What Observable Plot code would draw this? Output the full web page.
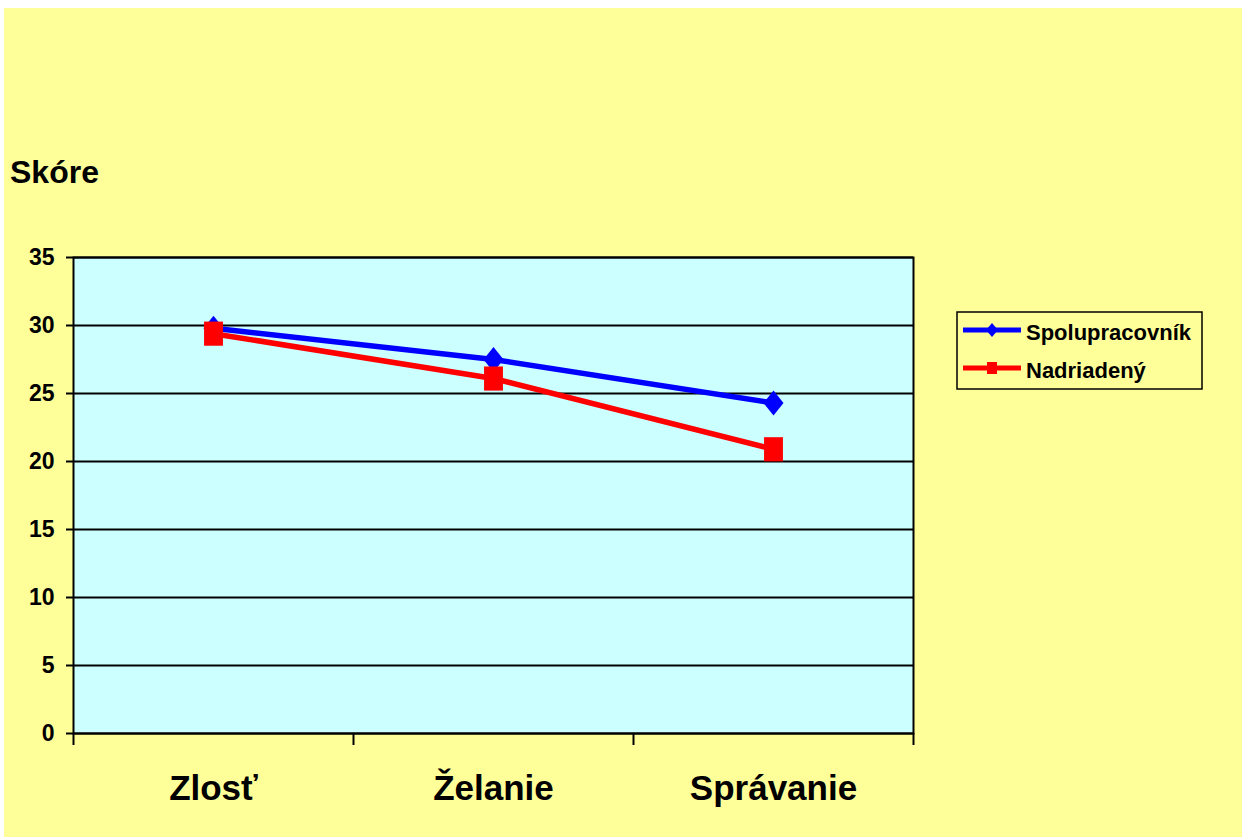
<!DOCTYPE html>
<html>
<head>
<meta charset="utf-8">
<script src="https://cdn.jsdelivr.net/npm/d3@7"></script>
<script src="https://cdn.jsdelivr.net/npm/@observablehq/plot@0.6"></script>
<style>
  html, body { margin: 0; padding: 0; background: #ffffff; }
  #wrap { position: relative; width: 1242px; height: 837px; overflow: hidden; font-family: "Liberation Sans", Arial, sans-serif; }
  #bg { position: absolute; left: 4px; top: 8px; width: 1238px; height: 829px; background: #FFFF99; }
  #chart { position: absolute; left: 0; top: 0; }
  #overlay { position: absolute; left: 0; top: 0; }
</style>
</head>
<body>
<div id="wrap">
  <div id="bg"></div>
  <div id="chart"></div>
  <svg id="overlay" width="1242" height="837"></svg>
</div>
<script>
const categories = ["Zlosť", "Želanie", "Správanie"];
const spolupracovnik = [29.8, 27.5, 24.3];
const nadriadeny = [29.4, 26.1, 20.9];
const seriesNames = ["Spolupracovník", "Nadriadený"];
const seriesColors = ["#0000FF", "#FF0000"];
const yTicks = [0, 5, 10, 15, 20, 25, 30, 35];
const yTitle = "Skóre";

const rows1 = categories.map((c, i) => ({cat: c, pos: i + 0.5, value: spolupracovnik[i]}));
const rows2 = categories.map((c, i) => ({cat: c, pos: i + 0.5, value: nadriadeny[i]}));

const diamond = {
  draw(ctx, size) {
    const r = Math.sqrt(size / Math.PI);
    ctx.moveTo(0, -r * 1.25);
    ctx.lineTo(r, 0);
    ctx.lineTo(0, r * 1.25);
    ctx.lineTo(-r, 0);
    ctx.closePath();
  }
};
const rectSym = {
  draw(ctx, size) {
    const r = Math.sqrt(size / Math.PI);
    ctx.rect(-r * 0.9, -r * 1.15, r * 1.8, r * 2.3);
  }
};

const boundaryTicks = d3.range(categories.length + 1);

const chart = Plot.plot({
  width: 1242,
  height: 837,
  marginLeft: 73,
  marginRight: 329,
  marginTop: 257,
  marginBottom: 104,
  style: {
    background: "transparent",
    fontFamily: "'Liberation Sans', Arial, sans-serif",
    fontWeight: "bold",
    color: "#000",
    overflow: "visible"
  },
  x: {type: "linear", domain: [0, categories.length]},
  y: {domain: [0, 35]},
  marks: [
    Plot.frame({fill: "#CCFFFF", stroke: null}),
    Plot.gridY(yTicks, {stroke: "#000", strokeOpacity: 1, strokeWidth: 2}),
    Plot.frame({stroke: "#000", strokeWidth: 2}),
    Plot.axisY({ticks: yTicks, tickSize: 7, tickPadding: 12, fontSize: 23, label: null, stroke: "#000", strokeWidth: 2}),
    Plot.axisX({ticks: boundaryTicks, tickSize: 12, tickFormat: () => "", label: null, stroke: "#000", strokeWidth: 2}),
    Plot.axisX({ticks: rows1.map(d => d.pos), tickSize: 0, tickPadding: 42, fontSize: 35, label: null,
      tickFormat: v => categories[Math.floor(v)]}),
    Plot.line(rows1, {x: "pos", y: "value", stroke: seriesColors[0], strokeWidth: 5.5}),
    Plot.dot(rows1, {x: "pos", y: "value", symbol: diamond, r: 10, fill: seriesColors[0], stroke: null}),
    Plot.line(rows2, {x: "pos", y: "value", stroke: seriesColors[1], strokeWidth: 5.5}),
    Plot.dot(rows2, {x: "pos", y: "value", symbol: rectSym, r: 10.5, fill: seriesColors[1], stroke: null})
  ]
});
document.getElementById("chart").appendChild(chart);

// Title and legend
const ov = d3.select("#overlay");
ov.append("text").attr("x", 10).attr("y", 183).text(yTitle)
  .attr("font-family", "'Liberation Sans', Arial, sans-serif").attr("font-weight", "bold").attr("font-size", 32).attr("fill", "#000");

const lg = ov.append("g").attr("transform", "translate(957,312)");
lg.append("rect").attr("x", 0).attr("y", 0).attr("width", 245).attr("height", 77)
  .attr("fill", "none").attr("stroke", "#000").attr("stroke-width", 1.5);
seriesNames.forEach((name, i) => {
  const y = i === 0 ? 18 : 56;
  lg.append("line").attr("x1", 6).attr("x2", 64).attr("y1", y).attr("y2", y)
    .attr("stroke", seriesColors[i]).attr("stroke-width", 5);
  if (i === 0) {
    lg.append("path").attr("d", `M35,${y-7}L41,${y}L35,${y+7}L29,${y}Z`).attr("fill", seriesColors[i]);
  } else {
    lg.append("rect").attr("x", 30).attr("y", y - 6).attr("width", 10).attr("height", 12).attr("fill", seriesColors[i]);
  }
  lg.append("text").attr("x", 69).attr("y", y + 10).text(name)
    .attr("font-family", "'Liberation Sans', Arial, sans-serif").attr("font-weight", "bold").attr("font-size", 22).attr("fill", "#000");
});
</script>
</body>
</html>
